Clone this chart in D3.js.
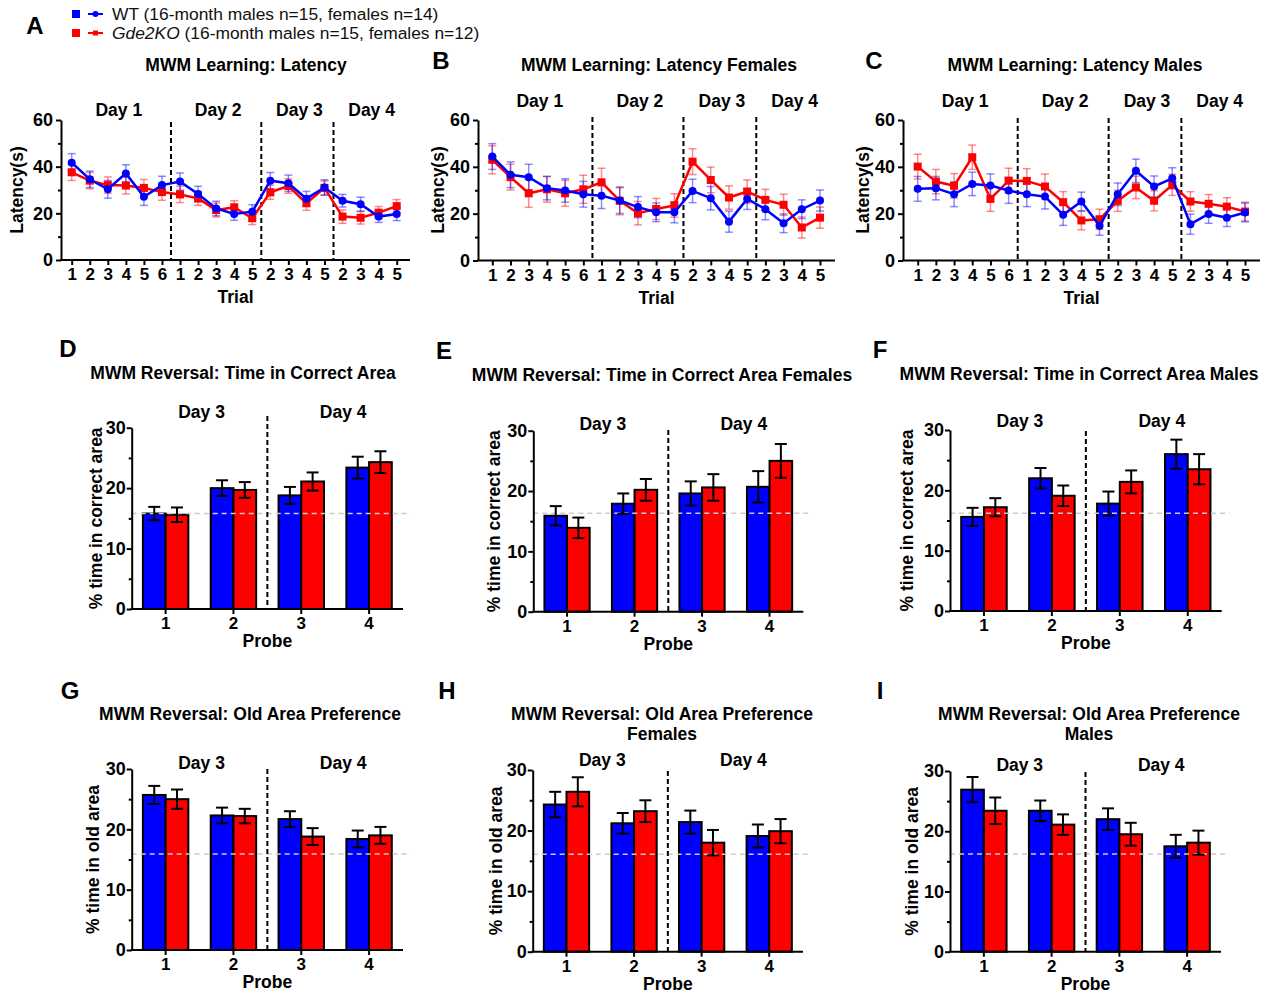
<!DOCTYPE html>
<html>
<head>
<meta charset="utf-8">
<script src="https://cdn.jsdelivr.net/npm/d3@7"></script>
<style>
  body { margin: 0; background: #fff; }
  svg { font-family: 'Liberation Sans', Arial, sans-serif; }
  .axis text { font-size: 17px; font-weight: bold; fill: #000; }
  .axis path, .axis line { stroke: #000; stroke-width: 2; }
  .yaxis text { font-size: 18px; }
</style>
</head>
<body>
<svg id="chart" width="1269" height="995"></svg>
<script>
// ---- data ----
const trialLabels = ['1', '2', '3', '4', '5', '6', '1', '2', '3', '4', '5', '2', '3', '4', '5', '2', '3', '4', '5']
const dayNames = ['Day 1', 'Day 2', 'Day 3', 'Day 4']
const latencyTicks = [0, 20, 40, 60]

const latencyAllWT = [41.7, 34.6, 30.3, 37.1, 27.1, 32.1, 33.6, 28.3, 22.1, 19.7, 20.7, 34.0, 32.9, 26.3, 31.1, 25.4, 23.9, 18.6, 19.7]
const latencyAllWTErr = [3.9, 3.5, 3.8, 3.7, 3.7, 3.8, 3.7, 3.3, 3.1, 2.7, 3.0, 3.5, 3.5, 3.1, 3.3, 2.7, 3.0, 2.5, 2.8]
const latencyAllKO = [37.6, 34.0, 32.1, 31.9, 30.9, 29.1, 28.1, 26.4, 21.4, 22.6, 17.9, 29.0, 31.7, 24.3, 30.9, 18.6, 18.1, 20.3, 23.1]
const latencyAllKOErr = [3.5, 3.5, 3.5, 3.6, 3.6, 3.5, 3.5, 3.0, 3.0, 2.8, 2.7, 3.0, 3.1, 3.0, 3.0, 2.9, 2.7, 2.6, 2.8]

const latencyFemWT = [44.4, 36.6, 35.6, 30.9, 29.9, 28.3, 27.7, 25.6, 22.8, 20.6, 20.6, 29.7, 26.6, 16.6, 26.3, 21.9, 15.9, 21.9, 25.6]
const latencyFemWTErr = [5.5, 5.5, 5.5, 5.0, 5.0, 5.5, 5.5, 5.5, 4.5, 4.0, 4.5, 5.0, 5.0, 4.5, 4.5, 4.5, 4.0, 4.0, 4.5]
const latencyFemKO = [43.0, 35.6, 28.7, 30.4, 28.7, 30.4, 33.4, 25.5, 20.2, 22.0, 23.5, 42.2, 34.4, 26.9, 29.4, 25.9, 23.8, 14.1, 18.3]
const latencyFemKOErr = [6.0, 5.5, 6.0, 5.5, 5.5, 6.0, 6.0, 6.0, 5.0, 4.5, 5.0, 5.5, 5.5, 5.0, 5.0, 4.5, 4.5, 4.5, 4.5]

const latencyMaleWT = [30.6, 30.9, 28.3, 32.7, 32.0, 29.9, 28.3, 27.3, 19.5, 25.2, 14.8, 28.3, 38.3, 31.6, 35.1, 15.5, 19.9, 18.3, 20.5]
const latencyMaleWTErr = [5.3, 5.0, 5.3, 5.0, 5.0, 5.5, 5.3, 5.3, 4.5, 4.0, 4.0, 4.8, 5.0, 4.5, 4.5, 4.3, 4.0, 3.8, 4.0]
const latencyMaleKO = [40.1, 33.7, 31.9, 44.1, 26.3, 34.1, 34.0, 31.6, 24.9, 17.1, 17.6, 25.5, 31.2, 25.5, 32.3, 25.2, 24.2, 23.0, 20.9]
const latencyMaleKOErr = [5.3, 5.2, 5.2, 5.2, 5.3, 5.3, 5.2, 5.3, 4.5, 4.0, 4.3, 4.5, 4.8, 4.3, 4.5, 4.2, 4.0, 3.8, 4.0]

const probes = ['1', '2', '3', '4']
const probeDays = ['Day 3', 'Day 4']
const percentTicks = [0, 10, 20, 30]

const correctAllWT = [15.8, 20.0, 18.8, 23.4]
const correctAllWTErr = [1.1, 1.3, 1.4, 1.8]
const correctAllKO = [15.6, 19.7, 21.1, 24.3]
const correctAllKOErr = [1.2, 1.3, 1.5, 1.8]
const correctAllChance = 15.8

const correctFemWT = [15.9, 17.9, 19.6, 20.7]
const correctFemWTErr = [1.6, 1.7, 2.0, 2.6]
const correctFemKO = [13.9, 20.2, 20.6, 25.0]
const correctFemKOErr = [1.7, 1.8, 2.2, 2.8]
const correctFemChance = 16.3

const correctMaleWT = [15.6, 22.0, 17.8, 26.0]
const correctMaleWTErr = [1.5, 1.7, 2.0, 2.4]
const correctMaleKO = [17.2, 19.1, 21.4, 23.5]
const correctMaleKOErr = [1.5, 1.7, 1.9, 2.5]
const correctMaleChance = 16.2

const oldAllWT = [25.7, 22.3, 21.7, 18.4]
const oldAllWTErr = [1.5, 1.3, 1.3, 1.4]
const oldAllKO = [25.0, 22.2, 18.8, 19.0]
const oldAllKOErr = [1.6, 1.2, 1.4, 1.4]
const oldAllChance = 15.9

const oldFemWT = [24.3, 21.2, 21.4, 19.1]
const oldFemWTErr = [2.1, 1.7, 1.9, 1.9]
const oldFemKO = [26.4, 23.2, 18.0, 19.9]
const oldFemKOErr = [2.4, 1.8, 2.1, 2.0]
const oldFemChance = 16.1

const oldMaleWT = [26.9, 23.4, 22.0, 17.5]
const oldMaleWTErr = [2.1, 1.7, 1.8, 1.9]
const oldMaleKO = [23.4, 21.1, 19.5, 18.1]
const oldMaleKOErr = [2.2, 1.7, 1.9, 2.0]
const oldMaleChance = 16.2

const wtColor = '#0000ff'
const koColor = '#ff0000'

const svg = d3.select('#chart')

// ---- legend ----
const legend = svg.append('g')
const legendRows = [
  { color: wtColor, shape: 'circle', name: 'WT', rest: ' (16-month males n=15, females n=14)', italic: false, y: 14 },
  { color: koColor, shape: 'square', name: 'Gde2KO', rest: ' (16-month males n=15, females n=12)', italic: true, y: 33 },
]
legendRows.forEach(r => {
  legend.append('rect').attr('x', 72).attr('y', r.y - 4).attr('width', 8).attr('height', 8).attr('fill', r.color)
  legend.append('line').attr('x1', 88).attr('x2', 103).attr('y1', r.y).attr('y2', r.y)
    .attr('stroke', r.color).attr('stroke-width', 2)
  if (r.shape === 'circle') {
    legend.append('circle').attr('cx', 95.5).attr('cy', r.y).attr('r', 3).attr('fill', r.color)
  } else {
    legend.append('rect').attr('x', 93).attr('y', r.y - 2.5).attr('width', 5).attr('height', 5).attr('fill', r.color)
  }
  const t = legend.append('text').attr('x', 112).attr('y', r.y + 6)
    .attr('font-size', 17.4).attr('fill', '#111')
  t.append('tspan').attr('font-style', r.italic ? 'italic' : 'normal').text(r.name)
  t.append('tspan').text(r.rest)
})

function panelLetter(letter, x, y) {
  svg.append('text').attr('x', x).attr('y', y).attr('text-anchor', 'middle')
    .attr('dominant-baseline', 'central')
    .attr('font-size', 24).attr('font-weight', 'bold').text(letter)
}

function title(lines, x, y) {
  lines.forEach((l, i) => {
    svg.append('text').attr('x', x).attr('y', y + i * 20).attr('text-anchor', 'middle')
      .attr('dominant-baseline', 'central')
      .attr('font-size', 17.5).attr('font-weight', 'bold').text(l)
  })
}

function boldText(g, x, y, txt, rotate) {
  const t = g.append('text').attr('text-anchor', 'middle').attr('dominant-baseline', 'central')
    .attr('font-size', 17.5).attr('font-weight', 'bold').text(txt)
  if (rotate) t.attr('transform', `translate(${x},${y}) rotate(-90)`)
  else t.attr('x', x).attr('y', y)
  return t
}

function drawYAxis(g, y, ax, major, minor, pad) {
  g.append('g').attr('class', 'axis yaxis').attr('transform', `translate(${ax},0)`)
    .call(d3.axisLeft(y).tickValues(major).tickSize(5).tickSizeOuter(0).tickPadding(pad))
  g.append('g').attr('class', 'axis').attr('transform', `translate(${ax},0)`)
    .call(d3.axisLeft(y).tickValues(minor).tickSize(3).tickFormat(''))
    .select('.domain').remove()
}

// ---- line panels ----
function drawLinePanel(p) {
  const g = svg.append('g')
  const x = d3.scalePoint().domain(d3.range(trialLabels.length)).range([p.px0, p.px1])
  const y = d3.scaleLinear().domain([0, 60]).range([p.yBot, p.yTop])

  // day groups: a new day starts when the trial label drops
  const starts = [0]
  trialLabels.forEach((t, i) => { if (i > 0 && +t < +trialLabels[i - 1]) starts.push(i) })
  const groups = starts.map((s, k) => [s, (starts[k + 1] || trialLabels.length) - 1])

  groups.forEach((gr, k) => {
    boldText(g, (x(gr[0]) + x(gr[1])) / 2 + 2, p.dayY, dayNames[k])
    if (k > 0) {
      const sx = (x(gr[0]) + x(gr[0] - 1)) / 2
      g.append('line').attr('x1', sx).attr('x2', sx).attr('y1', p.dashTop).attr('y2', p.yBot)
        .attr('stroke', '#000').attr('stroke-width', 2).attr('stroke-dasharray', '5,3')
    }
  })

  drawYAxis(g, y, p.ax, latencyTicks, [10, 30, 50], 3)
  const xa = g.append('g').attr('class', 'axis').attr('transform', `translate(0,${p.yBot})`)
    .call(d3.axisBottom(x).tickSize(5).tickPadding(3).tickFormat(i => trialLabels[i]))
  xa.select('.domain').remove()
  g.append('line').attr('x1', p.ax - 1).attr('x2', p.axEnd).attr('y1', p.yBot).attr('y2', p.yBot)
    .attr('stroke', '#000').attr('stroke-width', 2)

  boldText(g, (p.ax + p.axEnd) / 2, p.yBot + 37, 'Trial')
  boldText(g, p.ylabX, 190, 'Latency(s)', true)

  const series = [
    { vals: p.ko, err: p.koErr, color: koColor, shape: 'square' },
    { vals: p.wt, err: p.wtErr, color: wtColor, shape: 'circle' },
  ]
  series.forEach(s => {
    const eb = g.append('g').attr('stroke', s.color).attr('stroke-opacity', 0.45).attr('stroke-width', 1.5)
    s.vals.forEach((v, i) => {
      const cx = x(i)
      eb.append('line').attr('x1', cx).attr('x2', cx).attr('y1', y(v - s.err[i])).attr('y2', y(v + s.err[i]))
      eb.append('line').attr('x1', cx - 4).attr('x2', cx + 4).attr('y1', y(v + s.err[i])).attr('y2', y(v + s.err[i]))
      eb.append('line').attr('x1', cx - 4).attr('x2', cx + 4).attr('y1', y(v - s.err[i])).attr('y2', y(v - s.err[i]))
    })
  })
  series.forEach(s => {
    g.append('path').datum(s.vals)
      .attr('d', d3.line().x((d, i) => x(i)).y(d => y(d)))
      .attr('fill', 'none').attr('stroke', s.color).attr('stroke-width', 2.5)
    if (s.shape === 'circle') {
      g.selectAll(null).data(s.vals).join('circle')
        .attr('cx', (d, i) => x(i)).attr('cy', d => y(d)).attr('r', 4).attr('fill', s.color)
    } else {
      g.selectAll(null).data(s.vals).join('rect')
        .attr('x', (d, i) => x(i) - 4).attr('y', d => y(d) - 4)
        .attr('width', 8).attr('height', 8).attr('fill', s.color)
    }
  })
}

// ---- bar panels ----
function drawBarPanel(p) {
  const g = svg.append('g')
  const x = d3.scaleBand().domain(probes).range([p.ax, p.axEnd])
  const bw = x.bandwidth() * 0.335
  const xs = d3.scaleBand().domain(['WT', 'KO']).range([-bw, bw])
  const y = d3.scaleLinear().domain([0, 30]).range([p.yBot, p.yTop])

  const series = [
    { key: 'WT', vals: p.wt, err: p.wtErr, color: wtColor },
    { key: 'KO', vals: p.ko, err: p.koErr, color: koColor },
  ]
  series.forEach(s => {
    g.selectAll(null).data(s.vals).join('rect')
      .attr('x', (d, i) => x(probes[i]) + x.bandwidth() / 2 + xs(s.key))
      .attr('y', d => y(d))
      .attr('width', xs.bandwidth())
      .attr('height', d => p.yBot - y(d))
      .attr('fill', s.color).attr('stroke', '#000').attr('stroke-width', 2)
  })

  // chance line
  g.append('line').attr('x1', p.ax).attr('x2', p.axEnd + 8)
    .attr('y1', y(p.chance)).attr('y2', y(p.chance))
    .attr('stroke', '#ccc').attr('stroke-width', 1.5).attr('stroke-dasharray', '5,4')

  series.forEach(s => {
    s.vals.forEach((v, i) => {
      const cx = x(probes[i]) + x.bandwidth() / 2 + xs(s.key) + xs.bandwidth() / 2
      const eb = g.append('g').attr('stroke', '#000').attr('stroke-width', 2)
      eb.append('line').attr('x1', cx).attr('x2', cx).attr('y1', y(v - s.err[i])).attr('y2', y(v + s.err[i]))
      eb.append('line').attr('x1', cx - 6).attr('x2', cx + 6).attr('y1', y(v + s.err[i])).attr('y2', y(v + s.err[i]))
      eb.append('line').attr('x1', cx - 6).attr('x2', cx + 6).attr('y1', y(v - s.err[i])).attr('y2', y(v - s.err[i]))
    })
  })

  const sx = x('3')
  g.append('line').attr('x1', sx).attr('x2', sx).attr('y1', p.dashTop).attr('y2', p.yBot)
    .attr('stroke', '#000').attr('stroke-width', 2).attr('stroke-dasharray', '5,3')

  const c = pr => x(pr) + x.bandwidth() / 2
  boldText(g, (c('1') + c('2')) / 2 + 2, p.dayY, probeDays[0])
  boldText(g, (c('3') + c('4')) / 2 + 8, p.dayY, probeDays[1])

  drawYAxis(g, y, p.ax, percentTicks, [5, 15, 25], 1)
  const xa = g.append('g').attr('class', 'axis').attr('transform', `translate(0,${p.yBot})`)
    .call(d3.axisBottom(x).tickSize(5).tickSizeOuter(0).tickPadding(3))
  xa.select('.domain').remove()
  g.append('line').attr('x1', p.ax - 1).attr('x2', p.axEnd).attr('y1', p.yBot).attr('y2', p.yBot)
    .attr('stroke', '#000').attr('stroke-width', 2)

  boldText(g, (p.ax + p.axEnd) / 2, p.yBot + 32, 'Probe')
  boldText(g, p.ylabX, (p.yTop + p.yBot) / 2, p.ylab, true)
}

// ---- panels ----
panelLetter('A', 35, 25)
title(['MWM Learning: Latency'], 246, 65)
drawLinePanel({ ax: 61, axEnd: 410, px0: 71.7, px1: 396.7, yTop: 120, yBot: 260, dayY: 110, dashTop: 122, ylabX: 17,
  wt: latencyAllWT, wtErr: latencyAllWTErr, ko: latencyAllKO, koErr: latencyAllKOErr })

panelLetter('B', 441, 60)
title(['MWM Learning: Latency Females'], 659, 65)
drawLinePanel({ ax: 478, axEnd: 835, px0: 492.3, px1: 820, yTop: 120, yBot: 260.5, dayY: 101, dashTop: 117, ylabX: 438,
  wt: latencyFemWT, wtErr: latencyFemWTErr, ko: latencyFemKO, koErr: latencyFemKOErr })

panelLetter('C', 874, 60)
title(['MWM Learning: Latency Males'], 1075, 65)
drawLinePanel({ ax: 903, axEnd: 1260, px0: 917.7, px1: 1245, yTop: 120, yBot: 260.5, dayY: 101, dashTop: 118, ylabX: 863,
  wt: latencyMaleWT, wtErr: latencyMaleWTErr, ko: latencyMaleKO, koErr: latencyMaleKOErr })

panelLetter('D', 68, 348)
title(['MWM Reversal: Time in Correct Area'], 243, 373)
drawBarPanel({ ax: 131.7, axEnd: 403, yTop: 427.7, yBot: 609, dayY: 412, dashTop: 416, ylabX: 96,
  ylab: '% time in correct area', chance: correctAllChance,
  wt: correctAllWT, wtErr: correctAllWTErr, ko: correctAllKO, koErr: correctAllKOErr })

panelLetter('E', 444, 350)
title(['MWM Reversal: Time in Correct Area Females'], 662, 375)
drawBarPanel({ ax: 533.3, axEnd: 803.3, yTop: 430.7, yBot: 611.7, dayY: 424, dashTop: 430, ylabX: 494,
  ylab: '% time in correct area', chance: correctFemChance,
  wt: correctFemWT, wtErr: correctFemWTErr, ko: correctFemKO, koErr: correctFemKOErr })

panelLetter('F', 880, 349)
title(['MWM Reversal: Time in Correct Area Males'], 1079, 374)
drawBarPanel({ ax: 950, axEnd: 1221.7, yTop: 430, yBot: 611, dayY: 421, dashTop: 431, ylabX: 907,
  ylab: '% time in correct area', chance: correctMaleChance,
  wt: correctMaleWT, wtErr: correctMaleWTErr, ko: correctMaleKO, koErr: correctMaleKOErr })

panelLetter('G', 70, 690)
title(['MWM Reversal: Old Area Preference'], 250, 714)
drawBarPanel({ ax: 131.7, axEnd: 403, yTop: 769, yBot: 950, dayY: 763, dashTop: 769, ylabX: 93,
  ylab: '% time in old area', chance: oldAllChance,
  wt: oldAllWT, wtErr: oldAllWTErr, ko: oldAllKO, koErr: oldAllKOErr })

panelLetter('H', 447, 690)
title(['MWM Reversal: Old Area Preference', 'Females'], 662, 714)
drawBarPanel({ ax: 532.7, axEnd: 803, yTop: 770, yBot: 951.7, dayY: 760, dashTop: 771, ylabX: 496,
  ylab: '% time in old area', chance: oldFemChance,
  wt: oldFemWT, wtErr: oldFemWTErr, ko: oldFemKO, koErr: oldFemKOErr })

panelLetter('I', 880, 690)
title(['MWM Reversal: Old Area Preference', 'Males'], 1089, 714)
drawBarPanel({ ax: 950, axEnd: 1221, yTop: 771, yBot: 951.7, dayY: 765, dashTop: 772, ylabX: 912,
  ylab: '% time in old area', chance: oldMaleChance,
  wt: oldMaleWT, wtErr: oldMaleWTErr, ko: oldMaleKO, koErr: oldMaleKOErr })
</script>
</body>
</html>
